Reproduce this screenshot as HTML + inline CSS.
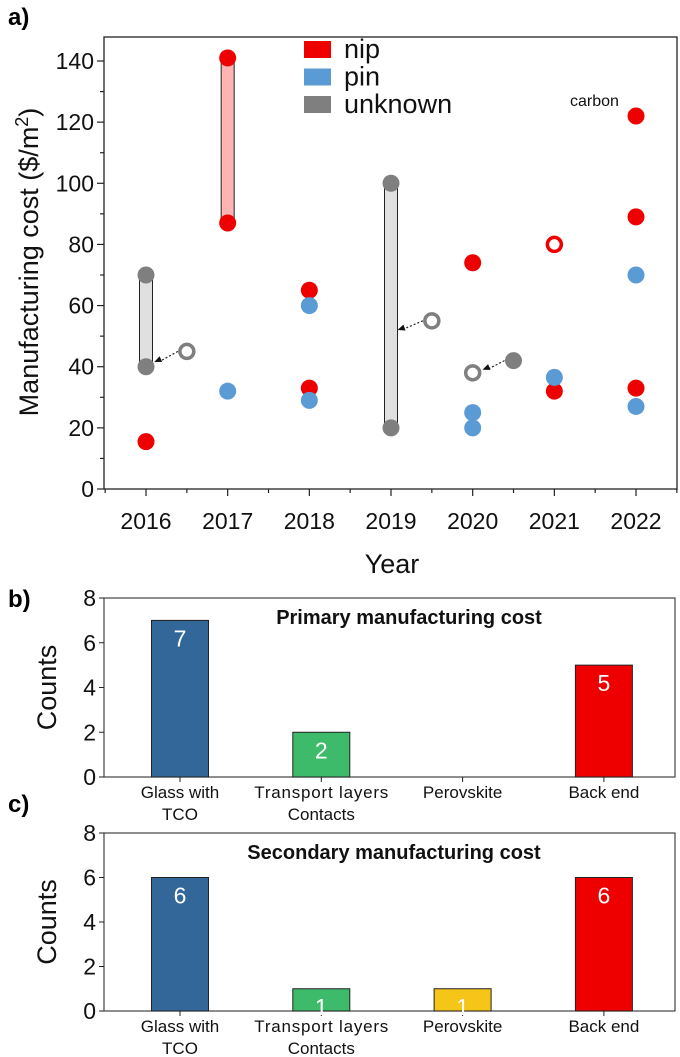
<!DOCTYPE html>
<html><head><meta charset="utf-8"><style>
body{margin:0;background:#fff}
svg{display:block;font-family:"Liberation Sans",Arial,sans-serif}
</style></head><body>
<svg id="s" width="680" height="1057" viewBox="0 0 680 1057">
<text x="8" y="25" font-size="24" font-weight="bold">a)</text>
<text x="8" y="607" font-size="24" font-weight="bold">b)</text>
<text x="8" y="812" font-size="24" font-weight="bold">c)</text>
<g id="ga"></g>
<g id="gb"></g>
<g id="gc"></g>
</svg>
<script>
const NS="http://www.w3.org/2000/svg";
function mk(p,t,a,txt){const e=document.createElementNS(NS,t);for(const k in a)e.setAttribute(k,a[k]);if(txt!=null)e.textContent=txt;p.appendChild(e);return e;}
// ---- panel a data ----
const years=[2016,2017,2018,2019,2020,2021,2022];
const yTicks=[0,20,40,60,80,100,120,140];
const nipX=[2016,2017,2017,2018,2018,2020,2021,2022,2022,2022];
const nipY=[15.5,141,87,65,33,74,32,122,89,33];
const nipHollowX=[2021];
const nipHollowY=[80];
const pinX=[2017,2018,2018,2020,2020,2021,2022,2022];
const pinY=[32,60,29,25,20,36.5,70,27];
const unkX=[2016,2016,2019,2019,2020.5];
const unkY=[70,40,100,20,42];
const unkHollowX=[2016.5,2019.5,2020];
const unkHollowY=[45,55,38];
const rangeX=[2016,2017,2019];
const rangeLo=[40,87,20];
const rangeHi=[70,141,100];
const rangeKind=['unknown','nip','unknown'];
const arrowFromX=[2016.5,2019.5,2020.5];
const arrowFromY=[45,55,42];
const arrowToX=[2016.1,2019.08,2020.12];
const arrowToY=[41.5,52,39];
// ---- bar data ----
const cats=["Glass with|TCO","Transport layers|Contacts","Perovskite","Back end"];
const primary=[7,2,0,5];
const secondary=[6,1,1,6];
const barTicks=[0,2,4,6,8];
const barColors=["#336699","#3dbb6a","#f5c518","#ee0000"];

const ga=document.getElementById('ga');
const L=104,R=677,T=37,B=489;
const xs=v=>146+(v-2016)*81.67;
const ys=v=>489-v*(428/140);
let f=mk(ga,'rect',{x:L,y:T,width:R-L,height:B-T,fill:'none',stroke:'#222','stroke-width':1.3});

for(let v=0;v<=145;v+=10){const y=ys(v);mk(ga,'line',{x1:L-(v%20?4:7),x2:L,y1:y,y2:y,stroke:'#222','stroke-width':1.2});}
yTicks.forEach(v=>{const t=mk(ga,'text',{x:L-10,y:ys(v)+8,'font-size':23,'text-anchor':'end',fill:'#111'},v);
});
for(let v=2015.5;v<=2022.5;v+=0.5){const x=xs(v);mk(ga,'line',{x1:x,x2:x,y1:B,y2:B+(v%1?4:7),stroke:'#222','stroke-width':1.2});}
years.forEach(v=>{const t=mk(ga,'text',{x:xs(v),y:529,'font-size':23,'text-anchor':'middle',fill:'#111'},v);
});
let t=mk(ga,'text',{x:392,y:573,'font-size':27,'text-anchor':'middle',fill:'#111'},'Year');

t=mk(ga,'text',{x:0,y:0,'font-size':27,'text-anchor':'middle',fill:'#111',transform:'translate(38,262) rotate(-90)'});
t.innerHTML='Manufacturing cost ($/m<tspan dy="-10" font-size="18">2</tspan><tspan dy="10">)</tspan>';

const col={nip:'#ee0000',pin:'#5b9bd5',unknown:'#7f7f7f'};
rangeX.forEach((x,i)=>{const r=mk(ga,'rect',{x:xs(x)-6.5,y:ys(rangeHi[i]),width:13,height:ys(rangeLo[i])-ys(rangeHi[i]),fill:rangeKind[i]=='nip'?'#ffb3b3':'#e0e0e0',stroke:'#222','stroke-width':1});
});
arrowFromX.forEach((x,i)=>{const x1=xs(x)-9,y1=ys(arrowFromY[i]),x2=xs(arrowToX[i]),y2=ys(arrowToY[i]);
mk(ga,'line',{x1:x1,y1:y1,x2:x2+6,y2:y2-1,stroke:'#222','stroke-width':1.2,'stroke-dasharray':'2,2'});
const a=Math.atan2(y2-y1,x2-x1);const p=[[x2,y2],[x2-8*Math.cos(a-0.4),y2-8*Math.sin(a-0.4)],[x2-8*Math.cos(a+0.4),y2-8*Math.sin(a+0.4)]];
const h=mk(ga,'polygon',{points:p.map(q=>q.join(',')).join(' '),fill:'#111'});
});
function pts(X,Y,c,hollow,name){X.forEach((x,i)=>{const e=mk(ga,'circle',{cx:xs(x),cy:ys(Y[i]),r:hollow?7:8.5,fill:hollow?'#fff':c,stroke:c,'stroke-width':hollow?3.5:0});
});}
pts(nipX,nipY,col.nip,false,'nip-point');pts(nipHollowX,nipHollowY,col.nip,true,'nip-hollow-point');
pts(pinX,pinY,col.pin,false,'pin-point');pts(unkX,unkY,col.unknown,false,'unknown-point');
pts(unkHollowX,unkHollowY,col.unknown,true,'unknown-hollow-point');
[['nip',col.nip],['pin',col.pin],['unknown',col.unknown]].forEach((l,i)=>{const y=49+i*27.5;
const r=mk(ga,'rect',{x:304,y:y-8,width:27,height:17,fill:l[1]});
const tx=mk(ga,'text',{x:344,y:y+9,'font-size':27,fill:'#111'},l[0]);});
t=mk(ga,'text',{x:570,y:106,'font-size':16,fill:'#111'},'carbon');

function bars(g,vals,top,bot,title,tx){
 const L=104,R=675;const ys=v=>bot-v*(bot-top)/8;const xc=i=>180+i*141.3;
 const fr=mk(g,'rect',{x:L,y:top,width:R-L,height:bot-top,fill:'none',stroke:'#444','stroke-width':1.2});
 
 barTicks.forEach(v=>{mk(g,'line',{x1:L-5,x2:L,y1:ys(v),y2:ys(v),stroke:'#222'});
 const e=mk(g,'text',{x:L-8,y:ys(v)+8,'font-size':23,'text-anchor':'end',fill:'#111'},v);});
 const yt=mk(g,'text',{x:0,y:0,'font-size':27,'text-anchor':'middle',fill:'#111',transform:`translate(56,${(top+bot)/2}) rotate(-90)`},'Counts');
 
 const tt=mk(g,'text',{x:tx,y:top+26,'font-size':20,'font-weight':'bold','text-anchor':'middle',fill:'#111'},title);
 
 cats.forEach((c,i)=>{mk(g,'line',{x1:xc(i),x2:xc(i),y1:bot,y2:bot+5,stroke:'#222'});
  c.split('|').forEach((s,j)=>{const e=mk(g,'text',{x:xc(i),y:bot+21+j*22,'font-size':17,'text-anchor':'middle',fill:'#111',textLength:s.length>12?134:null},s);
  if(!(s.length>12))e.removeAttribute('textLength');
  });
  const v=vals[i];if(v>0){const b=mk(g,'rect',{x:xc(i)-28.5,y:ys(v),width:57,height:bot-ys(v),fill:barColors[i],stroke:'#222','stroke-width':1});
  
  const lt=mk(g,'text',{x:xc(i),y:ys(v)+26,'font-size':23,'text-anchor':'middle',fill:'#fff'},v);
  }});
}
bars(document.getElementById('gb'),primary,598,777,'Primary manufacturing cost',409);
bars(document.getElementById('gc'),secondary,833,1011,'Secondary manufacturing cost',394);
</script>
</body></html>
